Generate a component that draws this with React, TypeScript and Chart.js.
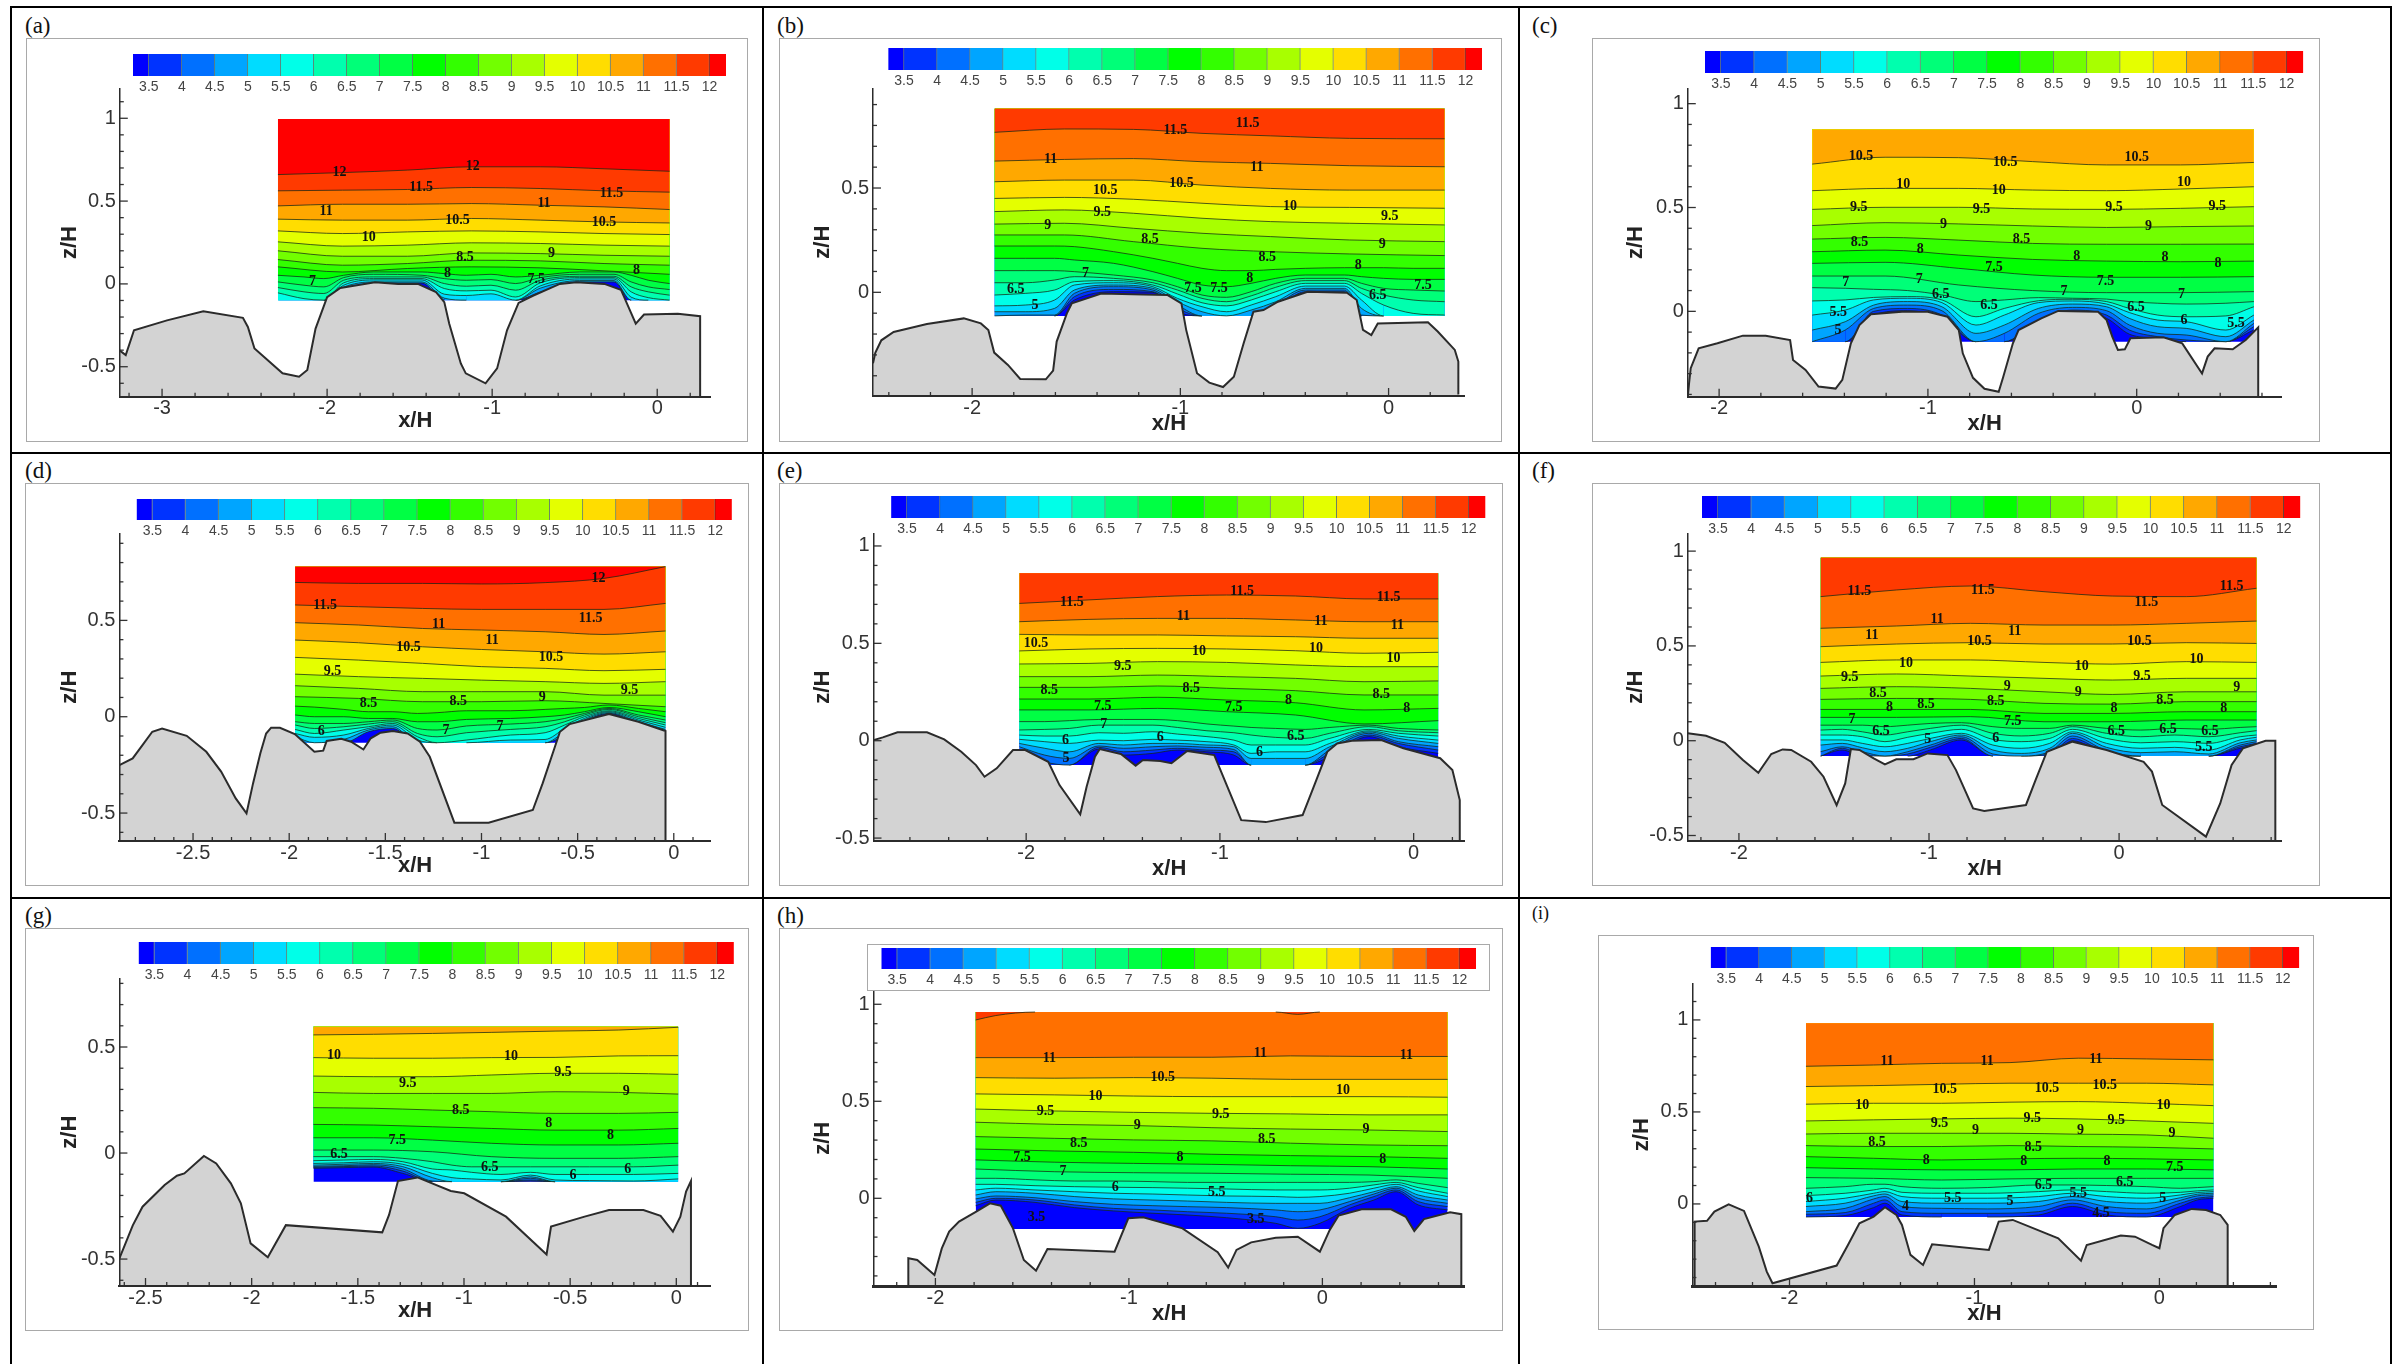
import React, { useEffect, useRef } from 'react';
import Chart from 'chart.js/auto';

const BAND_EDGES = [3.26, 3.5, 4, 4.5, 5, 5.5, 6, 6.5, 7, 7.5, 8, 8.5, 9, 9.5, 10, 10.5, 11, 11.5, 12, 12.25];
const BAND_COLORS = ['#0000ff', '#0033ff', '#0070ff', '#00a5ff', '#00dcff', '#00ffe8', '#00ffae', '#00ff78', '#00ff44', '#00ff00', '#33ff00', '#72ff00', '#a8ff00', '#e4ff00', '#ffdd00', '#ffa800', '#ff7000', '#ff3a00', '#ff0000'];
const CBAR_TICKS = [3.5, 4, 4.5, 5, 5.5, 6, 6.5, 7, 7.5, 8, 8.5, 9, 9.5, 10, 10.5, 11, 11.5, 12];

type C = [number, number[]];
type L = [string, number, number];

// ---------- (a)
const A_TERRAIN = [-3.26,-.40,-3.22,-.43,-3.17,-.28,-2.97,-.22,-2.75,-.165,-2.51,-.205,-2.48,-.26,-2.44,-.39,-2.27,-.54,-2.17,-.56,-2.12,-.52,-2.07,-.27,-2,-.08,-1.92,-.025,-1.71,.01,-1.57,0,-1.45,0,-1.34,-.05,-1.29,-.11,-1.26,-.24,-1.19,-.48,-1.16,-.54,-1.04,-.6,-.97,-.51,-.91,-.28,-.84,-.115,-.75,-.07,-.59,0,-.49,.01,-.32,0,-.22,-.035,-.13,-.24,-.08,-.185,.125,-.18,.26,-.195,.26,-.68];
const A_COARSE_X = [-2.298,-1.907,-1.514,-1.127,-.709,-.322,.075];
const A_UPPER: C[] = [
  [12,[.66,.672,.687,.707,.707,.695,.68]],
  [11.5,[.562,.566,.57,.582,.576,.562,.554]],
  [11,[.471,.481,.481,.485,.475,.465,.449]],
  [10.5,[.391,.385,.385,.395,.385,.374,.368]],
  [10,[.32,.304,.314,.32,.314,.304,.298]],
  [9.5,[.254,.228,.234,.248,.244,.234,.228]],
  [9,[.2,.167,.167,.187,.183,.173,.167]],
  [8.5,[.147,.113,.123,.143,.139,.123,.113]],
  [8,[.103,.072,.093,.103,.097,.079,.058]],
];
const A_FINE_X = [-2.298,-2.14,-2.02,-1.9,-1.72,-1.425,-1.29,-1.156,-1.007,-.858,-.709,-.471,-.262,-.158,-.054,.075];
const A_LOWER: C[] = [
  [7.5,[.052,.042,.032,.052,.072,.072,.062,.052,.058,.042,.052,.072,.072,.052,.022,.002]],
  [7,[.012,-.008,-.018,.038,.058,.052,.032,.022,.026,.002,.038,.058,.058,.012,-.018,-.034]],
  [6.5,[-.022,-.048,-.058,.022,.042,.042,.002,-.014,-.008,-.038,.022,.046,.046,-.018,-.048,-.068]],
  [6,[-.054,-.089,-.2,.006,.032,.032,-.028,-.042,-.038,-.079,.006,.038,.038,-.048,-.083,-.2]],
  [5.5,[-.2,-.2,-.2,-.008,.024,.024,-.062,-.07,-.06,-.2,-.012,.03,.03,-.08,-.2,-.2]],
  [5,[-.2,-.2,-.2,-.02,.012,.012,-.086,-.2,-.2,-.2,-.026,.02,.02,-.2,-.2,-.2]],
  [4.5,[-.2,-.2,-.2,-.04,.005,.005,-.2,-.2,-.2,-.2,-.05,.012,.012,-.2,-.2,-.2]],
];
const A_LABELS: L[] = [['12',-1.925,.672],['12',-1.118,.707],['11.5',-1.431,.58],['11.5',-.277,.546],['11',-2.006,.439],['11',-.686,.489],['10.5',-1.21,.385],['10.5',-.322,.374],['10',-1.747,.278],['9',-.641,.187],['8.5',-1.165,.159],['8',-1.27,.066],['8',-.125,.083],['7.5',-.733,.026],['7',-2.089,.018]];

// ---------- (b)
const B_TERRAIN = [-2.476,-.34,-2.465,-.29,-2.436,-.23,-2.377,-.19,-2.217,-.152,-2.04,-.125,-1.958,-.149,-1.922,-.181,-1.894,-.289,-1.828,-.348,-1.769,-.415,-1.646,-.417,-1.611,-.375,-1.594,-.236,-1.545,-.101,-1.521,-.053,-1.38,-.006,-1.179,-.01,-1.061,-.013,-.995,-.053,-.972,-.18,-.92,-.388,-.861,-.433,-.795,-.454,-.743,-.405,-.696,-.244,-.649,-.093,-.601,-.085,-.531,-.045,-.389,.003,-.2,-.002,-.153,-.037,-.123,-.18,-.083,-.205,-.052,-.149,.189,-.144,.236,-.188,.318,-.276,.335,-.332,.335,-.49];
const B_COARSE_X = [-1.892,-1.557,-1.226,-.896,-.566,-.189,.269];
const B_UPPER: C[] = [
  [11.5,[.767,.783,.781,.762,.75,.738,.736]],
  [11,[.629,.637,.641,.626,.618,.607,.602]],
  [10.5,[.53,.538,.538,.514,.498,.49,.49]],
  [10,[.45,.455,.446,.427,.411,.407,.403]],
  [9.5,[.387,.395,.379,.355,.339,.331,.323]],
  [9,[.327,.331,.307,.283,.267,.251,.243]],
  [8.5,[.275,.275,.243,.211,.195,.184,.176]],
];
const B_FINE_X = [-1.892,-1.745,-1.604,-1.509,-1.321,-1.132,-1.014,-.896,-.778,-.66,-.542,-.4,-.212,-.13,-.024,.118,.269];
const B_LOWER: C[] = [
  [8,[.222,.222,.222,.219,.195,.163,.139,.115,.104,.104,.11,.115,.118,.118,.118,.115,.115]],
  [7.5,[.163,.163,.163,.155,.139,.099,.067,.035,.027,.043,.067,.083,.083,.075,.067,.062,.062]],
  [7,[.104,.104,.104,.099,.083,.059,.027,-.013,-.024,.003,.043,.067,.067,.043,.019,.011,.006]],
  [6.5,[.046,.046,.059,.075,.067,.046,.011,-.029,-.045,-.017,.024,.056,.056,.019,-.013,-.037,-.045]],
  [6,[-.013,-.005,.011,.051,.056,.035,-.008,-.05,-.065,-.037,.003,.043,.043,-.005,-.061,-.101,-.109]],
  [5.5,[-.065,-.061,-.037,.035,.046,.027,-.029,-.069,-.093,-.061,-.021,.03,.03,-.037,-.113,-.2,-.2]],
  [5,[-.093,-.093,-.077,.011,.035,.019,-.045,-.093,-.2,-.085,-.045,.019,.019,-.077,-.2,-.2,-.2]],
  [4.5,[-.2,-.109,-.109,-.005,.027,.011,-.061,-.2,-.2,-.2,-.061,.011,.011,-.109,-.2,-.2,-.2]],
  [4,[-.2,-.2,-.13,-.021,.014,.003,-.077,-.2,-.2,-.2,-.077,.003,.003,-.2,-.2,-.2,-.2]],
  [3.5,[-.2,-.2,-.2,-.037,.003,0,-.093,-.2,-.2,-.2,-.2,-.003,-.003,-.2,-.2,-.2,-.2]],
];
const B_LABELS: L[] = [['11.5',-.677,.81],['11.5',-1.024,.776],['11',-1.623,.636],['11',-.632,.601],['10.5',-1.361,.487],['10.5',-.995,.522],['10',-.474,.411],['9.5',-1.375,.382],['9.5',.005,.366],['9',-1.637,.319],['9',-.031,.232],['8.5',-1.146,.256],['8.5',-.583,.169],['8',-.667,.065],['8',-.146,.131],['7.5',-.939,.019],['7.5',-.814,.019],['7.5',.165,.035],['7',-1.455,.091],['6.5',-1.79,.016],['6.5',-.052,-.013],['5',-1.698,-.064]];

// ---------- (c)
const C_TERRAIN = [-2.15,-.411,-2.144,-.347,-2.136,-.274,-2.098,-.178,-2.008,-.154,-1.886,-.117,-1.777,-.117,-1.66,-.138,-1.646,-.234,-1.586,-.282,-1.524,-.362,-1.442,-.372,-1.41,-.33,-1.369,-.154,-1.328,-.066,-1.273,-.014,-1.124,-.002,-1.001,-.002,-.906,-.026,-.852,-.09,-.833,-.202,-.784,-.32,-.729,-.373,-.661,-.387,-.639,-.315,-.593,-.154,-.566,-.09,-.457,-.034,-.376,.002,-.185,-.002,-.144,-.042,-.117,-.122,-.09,-.186,-.057,-.183,-.03,-.13,.128,-.125,.218,-.154,.313,-.299,.34,-.218,.373,-.178,.46,-.183,.522,-.138,.582,-.077,.582,-.411];
const C_COARSE_X = [-1.554,-1.205,-.852,-.498,-.144,.21,.561];
const C_UPPER: C[] = [
  [10.5,[.709,.742,.74,.721,.705,.705,.717]],
  [10,[.581,.592,.592,.584,.581,.589,.6]],
  [9.5,[.491,.501,.501,.493,.491,.496,.504]],
  [9,[.413,.427,.421,.411,.404,.408,.411]],
  [8.5,[.348,.356,.343,.327,.323,.323,.324]],
  [8,[.287,.295,.271,.25,.242,.239,.242]],
  [7.5,[.231,.236,.207,.175,.164,.164,.167]],
  [7,[.17,.17,.127,.1,.09,.09,.095]],
];
const C_FINE_X = [-1.554,-1.396,-1.26,-1.097,-.933,-.77,-.634,-.471,-.307,-.144,-.035,.101,.237,.427,.561];
const C_LOWER: C[] = [
  [6.5,[.114,.111,.106,.1,.079,.047,.055,.066,.063,.059,.047,.039,.035,.039,.047]],
  [6,[.05,.055,.067,.071,.055,-.026,.014,.051,.058,.047,.014,-.018,-.026,-.022,.022]],
  [5.5,[-.018,.006,.055,.063,.042,-.066,-.018,.042,.05,.035,-.006,-.042,-.05,-.09,-.018]],
  [5,[-.09,-.05,.03,.047,.022,-.106,-.066,.014,.035,.022,-.034,-.074,-.082,-.122,-.042]],
  [4.5,[-.2,-.09,.014,.03,.003,-.2,-.106,-.01,.019,.003,-.066,-.106,-.114,-.2,-.058]],
  [4,[-.2,-.2,0,.014,-.018,-.2,-.2,-.042,.006,-.018,-.09,-.122,-.138,-.2,-.074]],
  [3.5,[-.2,-.2,-.018,.003,-.034,-.2,-.2,-.066,0,-.034,-.11,-.13,-.2,-.2,-.09]],
];
const C_LABELS: L[] = [['10.5',-1.32,.748],['10.5',-.629,.719],['10.5',0,.74],['10',-1.118,.613],['10',-.661,.581],['10',.226,.62],['9.5',-1.331,.501],['9.5',-.743,.493],['9.5',-.109,.501],['9.5',.386,.504],['9',-.925,.419],['9',.057,.411],['8.5',-1.328,.332],['8.5',-.552,.347],['8',-1.037,.297],['8',-.287,.266],['8',.136,.26],['8',.389,.231],['7.5',-.683,.21],['7.5',-.15,.143],['7',-1.393,.14],['7',-1.042,.154],['7',-.348,.098],['7',.215,.08],['6.5',-.939,.083],['6.5',-.707,.027],['6.5',-.003,.018],['6',.226,-.042],['5.5',-1.429,-.005],['5.5',.476,-.058],['5',-1.431,-.09]];

// ---------- (d)
const D_TERRAIN = [-2.883,-.251,-2.814,-.216,-2.763,-.147,-2.712,-.078,-2.661,-.061,-2.533,-.099,-2.431,-.182,-2.354,-.285,-2.278,-.424,-2.222,-.502,-2.188,-.346,-2.15,-.19,-2.12,-.087,-2.094,-.057,-2.048,-.057,-1.971,-.09,-1.869,-.182,-1.823,-.176,-1.805,-.126,-1.729,-.114,-1.678,-.13,-1.614,-.17,-1.576,-.112,-1.525,-.083,-1.461,-.074,-1.384,-.087,-1.32,-.13,-1.269,-.208,-1.141,-.55,-.963,-.55,-.733,-.484,-.682,-.346,-.592,-.078,-.541,-.038,-.337,.014,-.184,-.026,-.043,-.074,-.043,-.645];
const D_COARSE_X = [-1.969,-1.639,-1.307,-1.001,-.669,-.363,-.043];
const D_UPPER: C[] = [
  [12,[.697,.692,.692,.689,.696,.718,.779]],
  [11.5,[.58,.571,.562,.557,.557,.557,.588]],
  [11,[.488,.476,.458,.45,.441,.427,.445]],
  [10.5,[.398,.384,.363,.349,.337,.325,.337]],
  [10,[.308,.294,.277,.26,.251,.239,.246]],
  [9.5,[.221,.208,.199,.19,.182,.173,.182]],
  [9,[.161,.147,.13,.13,.13,.112,.112]],
  [8.5,[.104,.095,.078,.078,.083,.069,.052]],
];
const D_FINE_X = [-1.969,-1.869,-1.716,-1.588,-1.461,-1.333,-1.231,-1.078,-.848,-.669,-.567,-.465,-.337,-.184,-.043];
const D_LOWER: C[] = [
  [8,[.055,.05,.038,.026,.026,.017,.021,.031,.031,.038,.043,.048,.061,.043,.026]],
  [7.5,[.009,0,0,-.009,-.009,-.026,-.026,-.014,-.009,0,.009,.026,.048,.026,0]],
  [7,[-.026,-.035,-.035,-.026,-.017,-.061,-.069,-.048,-.038,-.026,-.009,.017,.043,.009,-.017]],
  [6.5,[-.043,-.061,-.052,-.038,-.026,-.087,-.104,-.083,-.066,-.052,-.026,.009,.038,0,-.031]],
  [6,[-.066,-.087,-.069,-.052,-.035,-.104,-.2,-.121,-.095,-.083,-.043,0,.031,-.009,-.043]],
  [5.5,[-.087,-.107,-.095,-.061,-.043,-.121,-.2,-.2,-.121,-.118,-.061,-.009,.026,-.017,-.055]],
  [5,[-.104,-.2,-.118,-.069,-.052,-.2,-.2,-.2,-.2,-.2,-.078,-.017,.021,-.026,-.066]],
  [4.5,[-.2,-.2,-.2,-.078,-.061,-.2,-.2,-.2,-.2,-.2,-.095,-.026,.017,-.035,-.078]],
];
const D_LABELS: L[] = [['12',-.391,.716],['11.5',-1.813,.578],['11.5',-.432,.509],['11',-1.223,.479],['11',-.945,.398],['10.5',-1.379,.358],['10.5',-.638,.308],['9.5',-1.775,.235],['9.5',-.23,.135],['9',-.684,.1],['8.5',-1.588,.069],['8.5',-1.121,.078],['7',-1.185,-.073],['7',-.904,-.052],['6',-1.833,-.074]];

// ---------- (e)
const E_TERRAIN = [-2.788,.003,-2.74,.017,-2.664,.043,-2.512,.043,-2.423,.007,-2.335,-.057,-2.259,-.125,-2.215,-.185,-2.152,-.142,-2.068,-.048,-2.005,-.048,-1.886,-.108,-1.828,-.228,-1.721,-.378,-1.688,-.236,-1.645,-.082,-1.62,-.043,-1.511,-.068,-1.435,-.128,-1.397,-.099,-1.308,-.104,-1.25,-.116,-1.169,-.053,-1.029,-.074,-1.004,-.134,-.89,-.408,-.763,-.418,-.573,-.382,-.522,-.253,-.446,-.057,-.395,-.014,-.319,0,-.167,.003,-.053,-.039,.137,-.09,.2,-.151,.238,-.305,.238,-.515];
const E_COARSE_X = [-2.035,-1.676,-1.321,-.966,-.611,-.256,.127];
const E_UPPER: C[] = [
  [11.5,[.705,.723,.74,.748,.743,.728,.728]],
  [11,[.611,.623,.628,.628,.62,.611,.611]],
  [10.5,[.546,.543,.543,.538,.534,.526,.526]],
  [10,[.461,.471,.474,.471,.462,.449,.454]],
  [9.5,[.394,.397,.406,.402,.389,.38,.38]],
  [9,[.329,.329,.337,.329,.32,.303,.307]],
  [8.5,[.274,.274,.281,.269,.257,.235,.235]],
  [8,[.214,.214,.223,.209,.195,.158,.166]],
  [7.5,[.158,.158,.166,.149,.132,.086,.103]],
];
const E_FINE_X = [-2.035,-1.904,-1.777,-1.625,-1.498,-1.346,-1.219,-1.067,-.928,-.839,-.712,-.56,-.433,-.231,-.079,.127];
const E_LOWER: C[] = [
  [7,[.098,.098,.103,.109,.109,.109,.103,.086,.075,.068,.063,.058,.068,.08,.063,.055]],
  [6.5,[.055,.058,.063,.08,.08,.08,.068,.051,.041,.029,.017,.012,.038,.072,.051,.041]],
  [6,[.029,.024,.024,.041,.038,.046,.034,.021,.003,-.022,-.022,-.022,.012,.058,.038,.024]],
  [5.5,[.007,-.005,-.014,.003,0,.007,.003,-.005,-.022,-.065,-.057,-.057,-.014,.051,.024,.003]],
  [5,[-.014,-.039,-.057,-.014,-.022,-.014,-.014,-.022,-.031,-.091,-.091,-.091,-.031,.045,.012,-.014]],
  [4.5,[-.031,-.074,-.091,-.027,-.039,-.031,-.027,-.034,-.045,-.2,-.2,-.2,-.048,.038,-.005,-.031]],
  [4,[-.045,-.108,-.2,-.034,-.057,-.048,-.039,-.048,-.057,-.2,-.2,-.2,-.065,.029,-.014,-.048]],
  [3.5,[-.057,-.2,-.2,-.043,-.074,-.065,-.048,-.057,-.074,-.2,-.2,-.2,-.082,.021,-.031,-.065]],
];
const E_LABELS: L[] = [['11.5',-1.764,.709],['11.5',-.885,.769],['11.5',-.129,.735],['11',-1.189,.639],['11',-.479,.613],['11',-.084,.591],['10.5',-1.949,.502],['10',-1.108,.459],['10',-.504,.473],['10',-.104,.423],['9.5',-1.501,.384],['8.5',-1.881,.26],['8.5',-1.148,.271],['8.5',-.167,.236],['8',-.646,.205],['8',-.035,.166],['7.5',-1.605,.176],['7.5',-.928,.17],['7',-1.6,.086],['6.5',-.608,.021],['6',-1.797,.003],['6',-1.308,.015],['6',-.796,-.062],['5',-1.795,-.091]];

// ---------- (f)
const F_TERRAIN = [-2.269,.039,-2.173,.026,-2.075,-.011,-1.979,-.102,-1.898,-.169,-1.83,-.07,-1.77,-.046,-1.725,-.049,-1.62,-.111,-1.555,-.19,-1.486,-.34,-1.441,-.225,-1.411,-.044,-1.366,-.049,-1.291,-.093,-1.232,-.125,-1.172,-.098,-1.082,-.098,-1.007,-.067,-.903,-.076,-.858,-.155,-.768,-.357,-.709,-.371,-.49,-.339,-.439,-.207,-.38,-.058,-.245,-.005,-.066,-.049,.129,-.111,.173,-.163,.227,-.339,.457,-.506,.532,-.331,.592,-.128,.652,-.04,.771,0,.822,0,.822,-.529];
const F_COARSE_X = [-1.57,-1.172,-.783,-.395,-.036,.353,.723];
const F_UPPER: C[] = [
  [11.5,[.76,.795,.816,.786,.763,.76,.804]],
  [11,[.593,.605,.619,.61,.61,.619,.631]],
  [10.5,[.496,.51,.517,.51,.51,.517,.513]],
  [10,[.413,.426,.426,.413,.404,.417,.413]],
  [9.5,[.341,.352,.341,.329,.32,.329,.329]],
  [9,[.276,.285,.276,.258,.244,.258,.258]],
  [8.5,[.218,.223,.218,.197,.193,.206,.206]],
  [8,[.165,.165,.165,.144,.144,.153,.153]],
  [7.5,[.123,.123,.127,.1,.1,.109,.109]],
];
const F_FINE_X = [-1.57,-1.456,-1.351,-1.232,-1.112,-.993,-.829,-.664,-.515,-.365,-.245,-.066,.114,.293,.472,.637,.723];
const F_LOWER: C[] = [
  [7,[.082,.082,.082,.074,.082,.091,.095,.074,.065,.065,.082,.065,.056,.065,.06,.07,.074]],
  [6.5,[.056,.06,.047,.03,.047,.065,.082,.039,.025,.039,.074,.039,.021,.03,.021,.042,.053]],
  [6,[.03,.03,.021,-.005,.018,.039,.06,.007,-.005,.012,.06,.012,-.011,-.005,-.014,.021,.03]],
  [5.5,[.004,.004,-.014,-.032,-.014,.012,.039,-.023,-.04,-.014,.047,-.014,-.04,-.035,-.049,.004,.018]],
  [5,[-.023,-.014,-.037,-.058,-.04,-.005,.03,-.049,-.067,-.04,.039,-.035,-.063,-.058,-.07,-.011,.004]],
  [4.5,[-.058,-.032,-.058,-.2,-.058,-.023,.021,-.07,-.2,-.058,.025,-.053,-.2,-.2,-.2,-.023,-.005]],
  [4,[-.2,-.04,-.076,-.2,-.07,-.035,.012,-.2,-.2,-.07,.012,-.063,-.2,-.2,-.2,-.032,-.014]],
  [3.5,[-.2,-.049,-.2,-.2,-.2,-.049,.004,-.2,-.2,-.2,0,-.07,-.2,-.2,-.2,-.04,-.023]],
];
const F_LABELS: L[] = [['11.5',-1.366,.79],['11.5',-.717,.795],['11.5',.592,.816],['11.5',.143,.728],['11',-.957,.642],['11',-.55,.579],['11',-1.3,.557],['10.5',-.735,.526],['10.5',.108,.522],['10',-1.121,.408],['10',-.197,.39],['10',.407,.431],['9.5',-1.417,.334],['9.5',.12,.341],['9',-.589,.288],['9',-.215,.255],['9',.619,.281],['8.5',-1.268,.25],['8.5',-1.016,.192],['8.5',-.649,.206],['8.5',.242,.215],['8',-1.208,.174],['8',-.027,.171],['8',.55,.171],['7.5',-.559,.104],['7',-1.405,.113],['6.5',-1.253,.051],['6.5',-.015,.051],['6.5',.257,.06],['6.5',.478,.047],['6',-.649,.012],['5',-1.007,.007],['5.5',.445,-.037]];

// ---------- (g)
const G_TERRAIN = [-2.623,-.497,-2.56,-.341,-2.514,-.253,-2.41,-.151,-2.352,-.107,-2.317,-.096,-2.225,-.014,-2.167,-.049,-2.098,-.143,-2.051,-.237,-2.005,-.426,-1.924,-.491,-1.839,-.34,-1.385,-.374,-1.353,-.292,-1.311,-.132,-1.219,-.115,-1.062,-.179,-.999,-.19,-.802,-.3,-.611,-.478,-.59,-.347,-.432,-.3,-.317,-.269,-.155,-.269,-.074,-.296,-.016,-.371,.019,-.3,.046,-.182,.069,-.132,.069,-.627];
const G_COARSE_X = [-1.709,-1.427,-1.149,-.872,-.571,-.271,.009];
const G_UPPER: C[] = [
  [10.5,[.557,.56,.564,.569,.575,.58,.593]],
  [10,[.45,.447,.447,.45,.451,.458,.459]],
  [9.5,[.363,.36,.36,.368,.376,.376,.371]],
  [9,[.286,.281,.281,.281,.289,.286,.278]],
  [8.5,[.214,.211,.203,.195,.187,.187,.192]],
  [8,[.135,.132,.124,.116,.108,.108,.116]],
  [7.5,[.072,.072,.061,.046,.038,.038,.046]],
  [7,[.014,.014,.006,-.017,-.025,-.025,-.017]],
];
const G_FINE_X = [-1.709,-1.566,-1.427,-1.288,-1.149,-1.057,-.964,-.826,-.687,-.571,-.409,-.201,.009];
const G_LOWER: C[] = [
  [6.5,[-.017,-.017,-.017,-.025,-.041,-.057,-.065,-.065,-.065,-.065,-.065,-.065,-.057]],
  [6,[-.036,-.033,-.03,-.041,-.075,-.08,-.091,-.101,-.091,-.101,-.101,-.101,-.096]],
  [5.5,[-.049,-.046,-.041,-.053,-.096,-.116,-.122,-.127,-.104,-.127,-.13,-.132,-.122]],
  [5,[-.057,-.053,-.049,-.064,-.116,-.2,-.2,-.2,-.112,-.2,-.2,-.2,-.2]],
  [4.5,[-.063,-.06,-.055,-.075,-.132,-.2,-.2,-.2,-.119,-.2,-.2,-.2,-.2]],
  [4,[-.068,-.064,-.061,-.085,-.2,-.2,-.2,-.2,-.127,-.2,-.2,-.2,-.2]],
  [3.5,[-.072,-.069,-.066,-.096,-.2,-.2,-.2,-.2,-.132,-.2,-.2,-.2,-.2]],
];
const G_LABELS: L[] = [['10',-1.612,.462],['10',-.779,.456],['9.5',-.534,.381],['9.5',-1.265,.329],['9',-.236,.289],['8.5',-1.015,.2],['8',-.601,.14],['8',-.31,.085],['7.5',-1.314,.06],['6.5',-1.589,-.006],['6.5',-.879,-.068],['6',-.486,-.104],['6',-.229,-.077]];

// ---------- (h)
const H_TERRAIN = [-2.14,-.452,-2.14,-.309,-2.094,-.318,-2.005,-.395,-1.967,-.258,-1.929,-.172,-1.878,-.12,-1.789,-.069,-1.718,-.026,-1.662,-.038,-1.599,-.155,-1.543,-.318,-1.48,-.373,-1.421,-.261,-1.074,-.275,-1.003,-.103,-.926,-.098,-.723,-.155,-.541,-.278,-.487,-.357,-.444,-.266,-.368,-.227,-.241,-.203,-.127,-.198,-.013,-.275,.038,-.163,.084,-.089,.203,-.057,.355,-.057,.431,-.095,.475,-.168,.525,-.107,.66,-.072,.718,-.082,.718,-.452];
const H_COARSE_X = [-1.792,-1.383,-.977,-.571,-.165,.241,.647];
const H_UPPER: C[] = [
  [11,[.725,.725,.727,.727,.734,.731,.731]],
  [10.5,[.622,.619,.622,.619,.613,.613,.613]],
  [10,[.538,.533,.527,.524,.524,.524,.521]],
  [9.5,[.46,.45,.443,.438,.435,.43,.43]],
  [9,[.392,.381,.375,.364,.357,.352,.344]],
  [8.5,[.318,.309,.301,.296,.284,.275,.271]],
  [8,[.254,.244,.237,.227,.22,.215,.206]],
  [7.5,[.198,.186,.18,.175,.168,.163,.151]],
  [7,[.151,.137,.132,.129,.124,.12,.103]],
];
const H_FINE_X = [-1.792,-1.688,-1.485,-1.282,-1.079,-.876,-.698,-.495,-.241,-.127,-.013,.14,.266,.381,.495,.647];
const H_LOWER: C[] = [
  [11.5,[.919,.942,.96,1.2,1.2,1.2,1.2,1.2,.96,.948,.96,1.2,1.2,1.2,1.2,1.2]],
  [6.5,[.103,.103,.095,.089,.089,.086,.082,.082,.082,.082,.082,.082,.086,.095,.077,.055]],
  [6,[.072,.072,.065,.06,.057,.055,.052,.048,.043,.043,.043,.052,.069,.082,.055,.026]],
  [5.5,[.043,.052,.043,.034,.026,.022,.017,.012,.009,.005,.009,.026,.052,.072,.038,.009]],
  [5,[.017,.034,.026,.009,-.003,-.009,-.014,-.021,-.026,-.026,-.026,.003,.034,.06,.017,-.009]],
  [4.5,[-.003,.012,.003,-.017,-.031,-.038,-.043,-.048,-.06,-.069,-.06,-.017,.022,.052,0,-.026]],
  [4,[-.021,0,-.009,-.034,-.052,-.06,-.069,-.077,-.095,-.112,-.095,-.034,.009,.043,-.017,-.043]],
  [3.5,[-.038,-.009,-.021,-.048,-.065,-.077,-.086,-.1,-.129,-.155,-.129,-.052,-.009,.034,-.034,-.06]],
];
const H_LABELS: L[] = [['11',-1.411,.72],['11',-.32,.746],['11',.434,.735],['10.5',-.825,.625],['10',-1.173,.524],['10',.107,.557],['9.5',-1.431,.447],['9.5',-.525,.43],['9',-.957,.376],['9',.226,.354],['8.5',-1.259,.284],['8.5',-.287,.304],['8',-.736,.213],['8',.312,.203],['7.5',-1.553,.21],['7',-1.34,.141],['6',-1.071,.055],['5.5',-.546,.029],['3.5',-1.477,-.098],['3.5',-.345,-.107]];

// ---------- (i)
const I_TERRAIN = [-2.513,-.446,-2.513,-.096,-2.446,-.092,-2.406,-.042,-2.329,-.002,-2.246,-.038,-2.166,-.232,-2.123,-.368,-2.092,-.431,-1.745,-.335,-1.684,-.223,-1.622,-.105,-1.545,-.069,-1.484,-.018,-1.422,-.06,-1.392,-.114,-1.346,-.277,-1.278,-.332,-1.229,-.219,-.922,-.25,-.869,-.096,-.793,-.087,-.547,-.187,-.424,-.308,-.393,-.223,-.209,-.172,-.132,-.178,-.04,-.223,0,-.241,.022,-.132,.083,-.06,.175,-.027,.252,-.033,.329,-.06,.369,-.114,.369,-.446];
const I_COARSE_X = [-1.911,-1.545,-1.177,-.808,-.439,-.071,.292];
const I_UPPER: C[] = [
  [11,[.748,.755,.764,.768,.792,.788,.783]],
  [10.5,[.638,.643,.65,.656,.656,.656,.647]],
  [10,[.542,.547,.547,.553,.556,.547,.534]],
  [9.5,[.451,.457,.462,.466,.462,.451,.438]],
  [9,[.38,.384,.384,.384,.379,.375,.357]],
  [8.5,[.317,.312,.312,.317,.312,.308,.299]],
  [8,[.257,.248,.239,.245,.248,.245,.239]],
  [7.5,[.197,.19,.185,.185,.19,.19,.185]],
  [7,[.143,.139,.13,.136,.139,.139,.139]],
];
const I_FINE_X = [-1.911,-1.699,-1.545,-1.484,-1.392,-1.177,-.931,-.654,-.47,-.286,-.071,.114,.206,.292];
const I_LOWER: C[] = [
  [6.5,[.085,.094,.107,.107,.094,.085,.089,.103,.103,.1,.094,.085,.089,.094]],
  [6,[.045,.058,.076,.085,.063,.058,.058,.067,.076,.067,.058,.063,.071,.076]],
  [5.5,[.013,.031,.058,.067,.04,.031,.031,.04,.058,.04,.031,.049,.062,.067]],
  [5,[-.014,.004,.044,.054,.013,.004,.004,.013,.04,.013,.004,.034,.053,.058]],
  [4.5,[-.042,-.024,.027,.04,-.014,-.024,-.027,-.014,.022,-.014,-.027,.02,.044,.049]],
  [4,[-.056,-.047,.004,.022,-.042,-.051,-.051,-.042,.004,-.042,-.051,.004,.031,.04]],
  [3.5,[-.2,-.063,-.02,.004,-.06,-.2,-.2,-.06,-.014,-.06,-.2,-.014,.022,.031]],
];
const I_LABELS: L[] = [['11',-1.472,.772],['11',-.931,.772],['11',-.344,.786],['10.5',-1.161,.621],['10.5',-.608,.629],['10.5',-.295,.645],['10',-1.607,.536],['10',.022,.536],['9.5',-1.189,.44],['9.5',-.688,.467],['9.5',-.233,.455],['9',-.995,.4],['9',-.427,.397],['9',.068,.382],['8.5',-1.527,.335],['8.5',-.682,.308],['8',-1.26,.234],['8',-.734,.232],['8',-.283,.232],['7.5',.083,.201],['6.5',-.627,.1],['6.5',-.187,.118],['6',-1.892,.029],['5.5',-1.118,.029],['5.5',-.439,.058],['5',-.808,.013],['5',.018,.031],['4',-1.373,-.016],['4.5',-.316,-.051]];

// ---------- layout of each panel (pixels on the page; axis windows in data units)
const PANELS = [
  { tag: '(a)', tagPos: [25, 12, 23], frame: [26.5, 39.3, 746.6, 440.7], cbar: [133, 53.7, 726, 76], plot: [119.8, 88.3, 710.7, 396.7], xr: [-3.256, .324], yr: [-.681, 1.181], xt: [-3, -2, -1, 0], yt: [-.5, 0, .5, 1], xm: .2, ym: .1, box: [-2.295, .075, -.098, .995], xTitleY: 420.7, yTitleX: 70.2, terrain: A_TERRAIN, coarseX: A_COARSE_X, upper: A_UPPER, fineX: A_FINE_X, lower: A_LOWER, labels: A_LABELS },
  { tag: '(b)', tagPos: [777, 12, 23], frame: [779.6, 39.3, 1500.7, 440.7], cbar: [888.2, 48, 1482, 69.7], plot: [873, 88.3, 1464.8, 396], xr: [-2.476, .366], yr: [-.497, .978], xt: [-2, -1, 0], yt: [0, .5], xm: .2, ym: .1, box: [-1.892, .269, -.113, .88], xTitleY: 424, yTitleX: 822.9, terrain: B_TERRAIN, coarseX: B_COARSE_X, upper: B_UPPER, fineX: B_FINE_X, lower: B_LOWER, labels: B_LABELS },
  { tag: '(c)', tagPos: [1532, 12, 23], frame: [1593, 39.3, 2318.5, 440.7], cbar: [1704.9, 51, 2303.2, 72.7], plot: [1687.8, 88.3, 2281.6, 396.7], xr: [-2.15, .694], yr: [-.411, 1.074], xt: [-2, -1, 0], yt: [0, .5, 1], xm: .2, ym: .1, box: [-1.554, .561, -.146, .876], xTitleY: 424, yTitleX: 1636, terrain: C_TERRAIN, coarseX: C_COARSE_X, upper: C_UPPER, fineX: C_FINE_X, lower: C_LOWER, labels: C_LABELS },
  { tag: '(d)', tagPos: [25, 457, 23], frame: [25.5, 484.3, 747.5, 885], cbar: [136.5, 498.7, 731.8, 519.3], plot: [119.4, 533.3, 710.7, 841], xr: [-2.883, .192], yr: [-.645, .952], xt: [-2.5, -2, -1.5, -1, -.5, 0], yt: [-.5, 0, .5], xm: .1, ym: .1, box: [-1.969, -.043, -.135, .779], xTitleY: 865.7, yTitleX: 69.7, terrain: D_TERRAIN, coarseX: D_COARSE_X, upper: D_UPPER, fineX: D_FINE_X, lower: D_LOWER, labels: D_LABELS },
  { tag: '(e)', tagPos: [777, 457, 23], frame: [779.6, 484.3, 1501.7, 885], cbar: [891.1, 496, 1485.4, 517.7], plot: [873.5, 533.3, 1464.8, 841], xr: [-2.788, .264], yr: [-.515, 1.065], xt: [-2, -1, 0], yt: [-.5, 0, .5, 1], xm: .2, ym: .1, box: [-2.035, .127, -.125, .86], xTitleY: 869.3, yTitleX: 822.9, terrain: E_TERRAIN, coarseX: E_COARSE_X, upper: E_UPPER, fineX: E_FINE_X, lower: E_LOWER, labels: E_LABELS },
  { tag: '(f)', tagPos: [1532, 457, 23], frame: [1593, 484.3, 2318.5, 885], cbar: [1702, 496, 2300.3, 517.7], plot: [1687.8, 533.3, 2281.6, 841], xr: [-2.269, .855], yr: [-.529, 1.094], xt: [-2, -1, 0], yt: [-.5, 0, .5, 1], xm: .2, ym: .1, box: [-1.57, .723, -.081, .965], xTitleY: 869.3, yTitleX: 1636, terrain: F_TERRAIN, coarseX: F_COARSE_X, upper: F_UPPER, fineX: F_FINE_X, lower: F_LOWER, labels: F_LABELS },
  { tag: '(g)', tagPos: [25, 902, 23], frame: [25.5, 929.3, 747.5, 1330], cbar: [138.5, 942.3, 733.8, 964], plot: [119.4, 978.3, 710.7, 1286], xr: [-2.623, .162], yr: [-.627, .824], xt: [-2.5, -2, -1.5, -1, -.5, 0], yt: [-.5, 0, .5], xm: .1, ym: .1, box: [-1.709, .009, -.135, .596], xTitleY: 1310.7, yTitleX: 69.7, terrain: G_TERRAIN, coarseX: G_COARSE_X, upper: G_UPPER, fineX: G_FINE_X, lower: G_LOWER, labels: G_LABELS },
  { tag: '(h)', tagPos: [777, 902, 23], frame: [779.6, 929.3, 1501.7, 1330], cbar: [881.3, 948.3, 1476, 969.7], plot: [873.5, 990.7, 1464.8, 1286], xr: [-2.32, .736], yr: [-.452, 1.07], xt: [-2, -1, 0], yt: [0, .5, 1], xm: .2, ym: .1, box: [-1.792, .647, -.158, .96], xTitleY: 1314.3, yTitleX: 822.9, terrain: H_TERRAIN, coarseX: H_COARSE_X, upper: H_UPPER, fineX: H_FINE_X, lower: H_LOWER, labels: H_LABELS, cbarBox: [867, 944.3, 1490.4, 990.7], axisW: 3 },
  { tag: '(i)', tagPos: [1532, 903, 18], frame: [1599.2, 935.7, 2312.8, 1329.3], cbar: [1710.6, 946.7, 2299.2, 967.7], plot: [1692.4, 983.3, 2276.5, 1286], xr: [-2.525, .633], yr: [-.446, 1.199], xt: [-2, -1, 0], yt: [0, .5, 1], xm: .2, ym: .1, box: [-1.911, .292, -.071, .982], xTitleY: 1314.3, yTitleX: 1641.8, terrain: I_TERRAIN, coarseX: I_COARSE_X, upper: I_UPPER, fineX: I_FINE_X, lower: I_LOWER, labels: I_LABELS, axisW: 3 },
];

const V_RULES = [10.8, 763, 1518.5, 2391];
const H_RULES = [7.3, 452.7, 898];
const SANS = '"Liberation Sans", Arial, sans-serif';
const SERIF = '"Liberation Serif", "Times New Roman", serif';
const FRAME_GRAY = '#a9a9a9';

function pairs(flat: number[]) {
  const out: { x: number; y: number }[] = [];
  for (let i = 0; i < flat.length; i += 2) out.push({ x: flat[i], y: flat[i + 1] });
  return out;
}
function levelColor(level: number) {
  return BAND_COLORS[CBAR_TICKS.indexOf(level) + 1];
}
function multiples(lo: number, hi: number, step: number) {
  const out: number[] = [];
  for (let k = Math.ceil(lo / step - 1e-6); k * step <= hi + 1e-9; k++) out.push(k * step);
  return out;
}

function makePanelChart(canvas: HTMLCanvasElement, p: any) {
  const [fl, ft, fr, fb] = p.frame.map(Math.round);
  const [pl, pt, pr, pb] = p.plot;
  const [bx0, bx1, bz0, bz1] = p.box;
  const clampZ = (z: number) => Math.max(bz0, Math.min(bz1, z));
  const all: { level: number; xs: number[]; zs: number[] }[] = [
    ...p.upper.map((c: C) => ({ level: c[0], xs: p.coarseX, zs: c[1] })),
    ...p.lower.map((c: C) => ({ level: c[0], xs: p.fineX, zs: c[1] })),
  ].sort((a, b) => a.level - b.level);

  const datasets: any[] = [];
  let order = 1000;
  datasets.push({
    data: [{ x: bx0, y: bz0 }, { x: bx1, y: bz0 }],
    borderWidth: 0, pointRadius: 0, showLine: true, order: order--,
    backgroundColor: BAND_COLORS[0], fill: { target: { value: bz1 } },
  });
  const edge = (y: number) => y <= bz0 + 1e-6 || y >= bz1 - 1e-6;
  all.forEach((c) => {
    datasets.push({
      data: c.xs.map((x, i) => ({ x, y: clampZ(c.zs[i]) })),
      borderColor: 'rgba(20,40,20,0.75)', borderWidth: 1, pointRadius: 0, showLine: true,
      cubicInterpolationMode: 'monotone', order: order--,
      backgroundColor: levelColor(c.level), fill: { target: { value: bz1 } },
      segment: { borderColor: (ctx: any) => (edge(ctx.p0.parsed.y) && edge(ctx.p1.parsed.y) ? 'rgba(0,0,0,0)' : undefined) },
    });
  });
  datasets.push({
    data: pairs(p.terrain),
    borderColor: '#2b2b2b', borderWidth: 2, pointRadius: 0, showLine: true, tension: 0, order: order--,
    backgroundColor: '#d3d3d3', fill: { target: { value: p.yr[0] } },
  });

  const axisDecor = {
    id: 'axisDecor',
    afterDatasetsDraw(chart: any) {
      const { ctx, scales: { x, y } } = chart;
      ctx.save();
      ctx.strokeStyle = '#333';
      ctx.lineWidth = 1.3;
      const line = (x0: number, y0: number, x1: number, y1: number) => {
        ctx.beginPath(); ctx.moveTo(x0, y0); ctx.lineTo(x1, y1); ctx.stroke();
      };
      multiples(p.xr[0], p.xr[1], p.xm).forEach((v) => {
        const major = p.xt.some((t: number) => Math.abs(t - v) < 1e-6);
        const px = x.getPixelForValue(v);
        line(px, y.bottom, px, y.bottom - (major ? 8 : 4));
      });
      multiples(p.yr[0], p.yr[1], p.ym).forEach((v) => {
        const major = p.yt.some((t: number) => Math.abs(t - v) < 1e-6);
        const py = y.getPixelForValue(v);
        line(x.left, py, x.left + (major ? 8 : 4), py);
      });
      ctx.fillStyle = '#111';
      ctx.font = `bold 14px ${SERIF}`;
      ctx.textAlign = 'center';
      ctx.textBaseline = 'middle';
      p.labels.forEach((l: L) => ctx.fillText(l[0], x.getPixelForValue(l[1]), y.getPixelForValue(l[2])));
      ctx.restore();
    },
  };

  const axisFont = { family: SANS, size: 20 };
  const titleFont = { family: SANS, size: 22, weight: 'bold' as const };
  const lineHalf = (22 * 1.2) / 2;
  return new Chart(canvas, {
    type: 'scatter',
    data: { datasets },
    plugins: [axisDecor],
    options: {
      animation: false, responsive: false, devicePixelRatio: 1,
      layout: { padding: { left: 0, bottom: 0, top: pt - ft, right: fr - pr } },
      plugins: { legend: { display: false }, tooltip: { enabled: false }, title: { display: false } },
      scales: {
        x: {
          type: 'linear', min: p.xr[0], max: p.xr[1],
          afterBuildTicks: (s: any) => { s.ticks = p.xt.map((value: number) => ({ value })); },
          afterFit: (s: any) => { s.height = fb - pb; },
          grid: { display: false, drawTicks: false },
          border: { display: true, color: '#2b2b2b', width: p.axisW || 2, z: 1 },
          ticks: { font: axisFont, color: '#333', padding: 0, autoSkip: false, maxRotation: 0, callback: (v: any) => String(v) },
          title: { display: true, text: 'x/H', font: titleFont, color: '#222', padding: { top: 0, bottom: Math.max(0, fb - p.xTitleY - lineHalf) } },
        },
        y: {
          type: 'linear', min: p.yr[0], max: p.yr[1],
          afterBuildTicks: (s: any) => { s.ticks = p.yt.map((value: number) => ({ value })); },
          afterFit: (s: any) => { s.width = pl - fl; },
          grid: { display: false, drawTicks: false },
          border: { display: true, color: '#2b2b2b', width: 1.5, z: 1 },
          ticks: { font: axisFont, color: '#333', padding: 4, autoSkip: false, callback: (v: any) => String(v) },
          title: { display: true, text: 'z/H', font: titleFont, color: '#222', padding: { top: Math.max(0, p.yTitleX - fl - lineHalf), bottom: 0 } },
        },
      },
    } as any,
  });
}

function makeBarChart(canvas: HTMLCanvasElement, p: any) {
  const [l, t, r, b] = p.cbar;
  const cl = Math.round(l) - 20;
  const ct = Math.round(t);
  const cw = Math.round(r) + 20 - cl;
  const below = 26;
  return new Chart(canvas, {
    type: 'bar',
    data: {
      labels: [''],
      datasets: BAND_COLORS.map((color, i) => ({
        data: [[BAND_EDGES[i], BAND_EDGES[i + 1]]],
        backgroundColor: color,
        borderColor: 'rgba(10,50,30,0.6)',
        borderWidth: { left: 0, right: i === BAND_COLORS.length - 1 ? 0 : 1, top: 0, bottom: 0 },
        borderSkipped: false,
        grouped: false, barPercentage: 1, categoryPercentage: 1,
      })),
    },
    options: {
      indexAxis: 'y', animation: false, responsive: false, devicePixelRatio: 1,
      layout: { padding: { left: l - cl, right: cl + cw - r, top: 0, bottom: 0 } },
      plugins: { legend: { display: false }, tooltip: { enabled: false } },
      scales: {
        y: { display: false, grid: { display: false } },
        x: {
          type: 'linear', min: BAND_EDGES[0], max: BAND_EDGES[BAND_EDGES.length - 1], position: 'bottom',
          afterBuildTicks: (s: any) => { s.ticks = CBAR_TICKS.map((value) => ({ value })); },
          afterFit: (s: any) => { s.height = below; },
          grid: { display: false, drawTicks: false }, border: { display: false },
          ticks: { font: { family: SANS, size: 14 }, color: '#444', padding: 3, autoSkip: false, maxRotation: 0, callback: (v: any) => String(v) },
        },
      },
    } as any,
  });
}

export default function App() {
  const panelRefs = useRef<(HTMLCanvasElement | null)[]>([]);
  const barRefs = useRef<(HTMLCanvasElement | null)[]>([]);
  useEffect(() => {
    const charts: Chart[] = [];
    PANELS.forEach((p, i) => {
      charts.push(makePanelChart(panelRefs.current[i]!, p));
      charts.push(makeBarChart(barRefs.current[i]!, p));
    });
    return () => charts.forEach((c) => c.destroy());
  }, []);

  const abs = (l: number, t: number, w: number, h: number, extra: any = {}) => ({ position: 'absolute' as const, left: l, top: t, width: w, height: h, ...extra });
  return (
    <div style={abs(0, 0, 2395, 1365, { background: '#fff', overflow: 'hidden' })}>
      {V_RULES.map((x, i) => <div key={'v' + i} style={abs(x - 1, H_RULES[0] - 1, 2, 1365 - H_RULES[0], { background: '#000' })} />)}
      {H_RULES.map((y, i) => <div key={'h' + i} style={abs(V_RULES[0] - 1, y - 1, V_RULES[3] - V_RULES[0] + 2, 2, { background: '#000' })} />)}
      {PANELS.map((p: any, i) => {
        const [fl, ft, fr, fb] = p.frame.map(Math.round);
        const cl = Math.round(p.cbar[0]) - 20;
        const ct = Math.round(p.cbar[1]);
        const cw = Math.round(p.cbar[2]) + 20 - cl;
        const barPx = Math.round(p.cbar[3] - p.cbar[1]);
        return (
          <React.Fragment key={p.tag}>
            <div style={{ position: 'absolute', left: p.tagPos[0], top: p.tagPos[1], fontFamily: SERIF, fontSize: p.tagPos[2], lineHeight: 1.2, color: '#111' }}>{p.tag}</div>
            <div style={abs(fl - 1, ft - 1, fr - fl, fb - ft, { border: `1.5px solid ${FRAME_GRAY}`, boxSizing: 'content-box' })} />
            <canvas ref={(el) => { panelRefs.current[i] = el; }} width={fr - fl} height={fb - ft} style={abs(fl, ft, fr - fl, fb - ft)} />
            {p.cbarBox && <div style={abs(p.cbarBox[0], p.cbarBox[1], p.cbarBox[2] - p.cbarBox[0], p.cbarBox[3] - p.cbarBox[1], { border: `1.5px solid ${FRAME_GRAY}`, boxSizing: 'border-box', background: '#fff' })} />}
            <canvas ref={(el) => { barRefs.current[i] = el; }} width={cw} height={barPx + 26} style={abs(cl, ct, cw, barPx + 26)} />
          </React.Fragment>
        );
      })}
    </div>
  );
}
